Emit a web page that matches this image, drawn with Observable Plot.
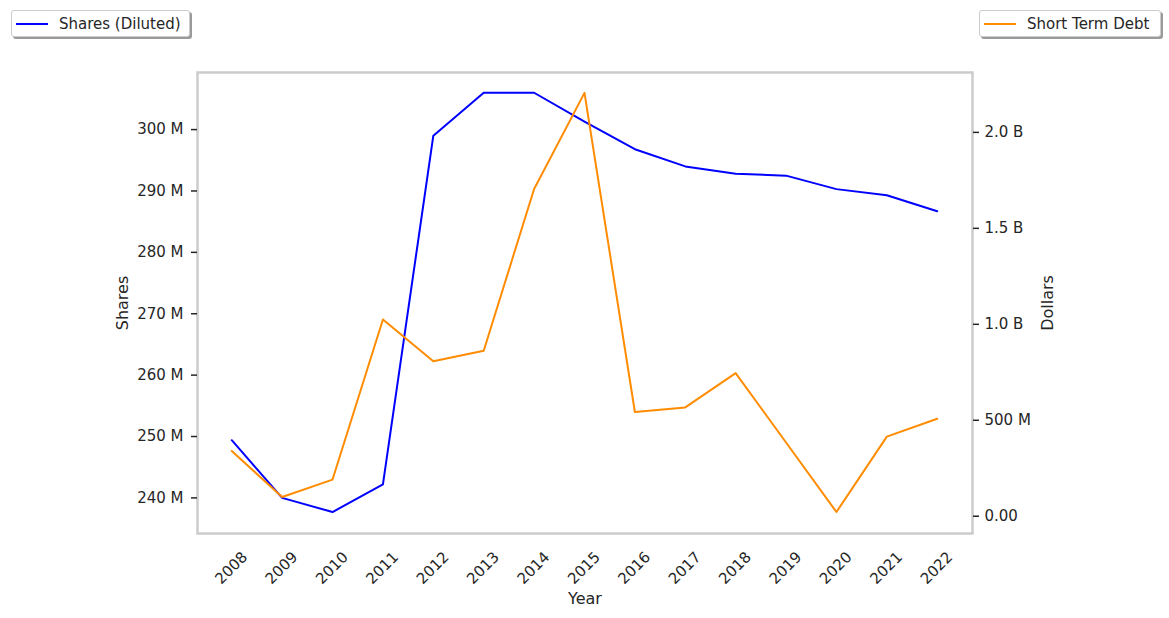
<!DOCTYPE html>
<html><head><meta charset="utf-8">
<script src="https://cdn.jsdelivr.net/npm/d3@7"></script>
<script src="https://cdn.jsdelivr.net/npm/@observablehq/plot@0.6"></script>
<style>
body{margin:0;background:#fff;font-family:"DejaVu Sans",sans-serif;}
#wrap{position:relative;width:1169px;height:618px;}
.legend{position:absolute;box-sizing:border-box;background:#fff;border:1px solid #cccccc;border-radius:3px;box-shadow:2px 2px 0 #9a9a9a;font-size:15px;color:#262626;display:flex;align-items:center;height:27px;top:10px;}
.legend .sw{display:inline-block;width:32px;height:0;border-top:2px solid;margin:0 11px 0 4px;}
</style></head><body>
<div id="wrap"></div>
<script>
const years = [2008,2009,2010,2011,2012,2013,2014,2015,2016,2017,2018,2019,2020,2021,2022];
const sharesDiluted = [249.4e6,240.0e6,237.7e6,242.2e6,299.0e6,306.0e6,306.0e6,301.3e6,296.8e6,294.0e6,292.8e6,292.5e6,290.3e6,289.3e6,286.7e6];
const shortTermDebt = [0.340e9,0.100e9,0.191e9,1.025e9,0.808e9,0.862e9,1.705e9,2.206e9,0.543e9,0.567e9,0.746e9,0.384e9,0.022e9,0.415e9,0.508e9];
const shareTicks = [240e6,250e6,260e6,270e6,280e6,290e6,300e6];
const shareTickLabels = ["240 M","250 M","260 M","270 M","280 M","290 M","300 M"];
const debtTicks = [0,0.5e9,1.0e9,1.5e9,2.0e9];
const debtTickLabels = ["0.00","500 M","1.0 B","1.5 B","2.0 B"];
const seriesNames = ["Shares (Diluted)","Short Term Debt"];
const seriesColors = ["#0000ff","#ff8c00"];

const sharesDomain = [234.2e6, 309.3e6];
const debtDomain = [-0.090e9, 2.312e9];
const debtToShares = d3.scaleLinear().domain(debtDomain).range(sharesDomain);

const sharesData = years.map((y,i)=>({year:y, v:sharesDiluted[i]}));
const debtData = years.map((y,i)=>({year:y, v:debtToShares(shortTermDebt[i])}));
const debtTicksMapped = debtTicks.map(d=>debtToShares(d));

const nearestLabel = (ticks, labels) => d => {
  let best = 0, bd = Infinity;
  ticks.forEach((t,i)=>{const dd=Math.abs(t-d); if(dd<bd){bd=dd;best=i;}});
  return labels[best];
};

const chart = Plot.plot({
  width: 1169, height: 618,
  marginLeft: 197, marginRight: 197, marginTop: 72, marginBottom: 85,
  style: {fontFamily: "DejaVu Sans, sans-serif", fontSize: "15px", color: "#262626", background: "transparent"},
  x: {domain: [2007.32, 2022.70]},
  y: {domain: sharesDomain},
  marks: [
    Plot.line(sharesData, {x: "year", y: "v", stroke: seriesColors[0], strokeWidth: 2}),
    Plot.line(debtData, {x: "year", y: "v", stroke: seriesColors[1], strokeWidth: 2}),
    Plot.frame({stroke: "#cccccc", strokeWidth: 2.5}),
    Plot.axisY({ticks: shareTicks, tickFormat: nearestLabel(shareTicks, shareTickLabels), tickSize: 6, tickPadding: 8, label: null, stroke: "#262626", strokeWidth: 1.5}),
    Plot.axisY({anchor: "right", ticks: debtTicksMapped, tickFormat: nearestLabel(debtTicksMapped, debtTickLabels), tickSize: 6, tickPadding: 6, label: null, stroke: "#262626", strokeWidth: 1.5}),
    Plot.axisX({ticks: years, tickFormat: d => String(d), tickSize: 0, tickRotate: -45, tickPadding: 10, dx: 13, dy: 11, label: null}),
    Plot.text(["Shares"], {frameAnchor: "left", dx: -75, rotate: -90, textAnchor: "middle", lineAnchor: "middle", fontSize: 16, fill: "#262626"}),
    Plot.text(["Dollars"], {frameAnchor: "right", dx: 75, rotate: -90, textAnchor: "middle", lineAnchor: "middle", fontSize: 16, fill: "#262626"}),
    Plot.text(["Year"], {frameAnchor: "bottom", dy: 65, textAnchor: "middle", lineAnchor: "middle", fontSize: 16, fill: "#262626"})
  ]
});
const wrap = document.getElementById("wrap");
wrap.appendChild(chart);

function legend(name, color, left, width){
  const d = document.createElement("div");
  d.className = "legend";
  d.style.left = left + "px";
  d.style.width = width + "px";
  const sw = document.createElement("span");
  sw.className = "sw"; sw.style.borderTopColor = color;
  const t = document.createElement("span"); t.textContent = name;
  d.appendChild(sw); d.appendChild(t);
  wrap.appendChild(d);
}
legend(seriesNames[0], seriesColors[0], 11, 179);
legend(seriesNames[1], seriesColors[1], 979, 182);
</script>
</body></html>
